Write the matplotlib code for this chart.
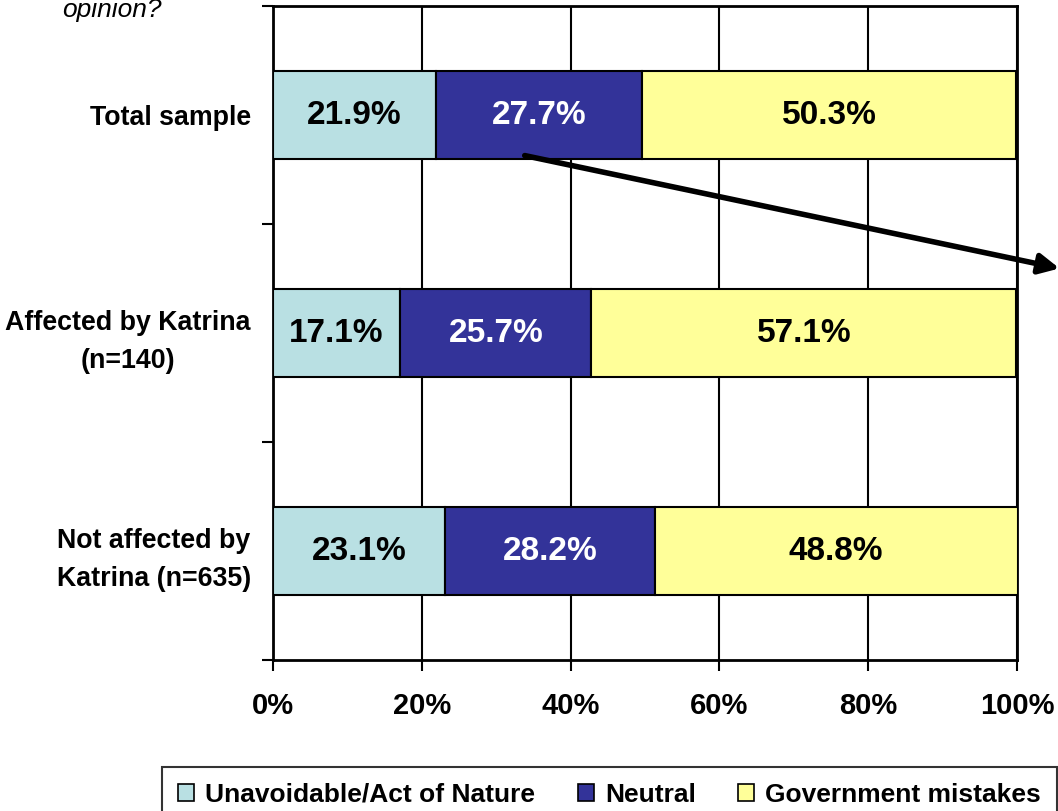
import matplotlib.pyplot as plt
import numpy as np

plt.rcParams['font.family'] = ['Liberation Sans', 'DejaVu Sans']

groups = ['Total sample', 'Affected by Katrina\n(n=140)', 'Not affected by\nKatrina (n=635)']
series = ['Unavoidable/Act of Nature', 'Neutral', 'Government mistakes']
unavoidable = [21.9, 17.1, 23.1]
neutral = [27.7, 25.7, 28.2]
government = [50.3, 57.1, 48.8]
colors = ['#B9E0E3', '#333399', '#FFFF99']
label_colors = ['black', 'white', 'black']
xticks = [0, 20, 40, 60, 80, 100]

fig = plt.figure(figsize=(10.58, 8.11), dpi=100)
ax = fig.add_axes([273/1058, 1-660/811, (1017-273)/1058, (660-6)/811])

ypos = np.array([2.5, 1.5, 0.5])
vals = np.array([unavoidable, neutral, government]) / 100.0
left = np.zeros(3)
for i in range(3):
    ax.barh(ypos, vals[i], left=left, height=0.4, color=colors[i],
            edgecolor='black', linewidth=1.5, label=series[i], zorder=3)
    for j in range(3):
        ax.text(left[j] + vals[i][j]/2, ypos[j], '%.1f%%' % (vals[i][j]*100),
                ha='center', va='center', fontsize=24, fontweight='bold',
                color=label_colors[i], zorder=4)
    left += vals[i]

ax.set_xlim(0, 1)
ax.set_ylim(0, 3)
ax.set_xticks([t/100 for t in xticks])
ax.set_xticklabels(['%d%%' % t for t in xticks], fontsize=21, fontweight='bold')
ax.tick_params(axis='x', length=8, width=1.5, pad=15)
ax.grid(axis='x', color='black', linewidth=1.5, zorder=1)

ax.set_yticks(ypos)
ax.set_yticklabels(groups, fontsize=19.3, fontweight='bold')
for t in ax.get_yticklabels():
    t.set_multialignment('center')
    t.set_linespacing(1.6)
ax.set_yticks([0, 1, 2, 3], minor=True)
ax.tick_params(axis='y', which='major', length=0, pad=16)
ax.tick_params(axis='y', which='minor', length=8, width=1.5)

for s in ax.spines.values():
    s.set_linewidth(2)
    s.set_color('black')

fig.text(62/1058, 1-17/811, 'opinion?', fontsize=19, fontstyle='italic', va='baseline')

ax.annotate('', xy=(1.004, 1-269/811), xytext=(522/1058, 1-155/811),
            xycoords='figure fraction', textcoords='figure fraction',
            arrowprops=dict(arrowstyle='-|>', color='black', lw=4, mutation_scale=30),
            annotation_clip=False)

leg = fig.legend(loc='upper left', bbox_to_anchor=(162/1058, 1-767/811), ncol=3,
                 frameon=True, fancybox=False, edgecolor='black',
                 prop={'weight': 'bold', 'size': 19}, handlelength=0.62,
                 handleheight=0.62, handletextpad=0.42, columnspacing=1.6,
                 borderpad=0.6, borderaxespad=0)
leg.get_frame().set_linewidth(1.5)
for h in leg.legend_handles:
    h.set_linewidth(1.2)

fig.savefig('out.png', dpi=100)
